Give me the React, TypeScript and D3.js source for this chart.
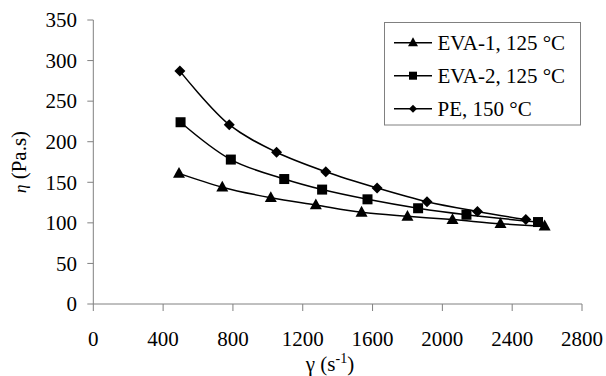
import React from "react";
import * as d3 from "d3";

const xTicks = [0, 400, 800, 1200, 1600, 2000, 2400, 2800];
const yTicks = [0, 50, 100, 150, 200, 250, 300, 350];

const eva1X = [491, 739, 1017, 1275, 1537, 1800, 2058, 2333, 2586];
const eva1Y = [161, 144, 131, 122, 113, 108, 104, 99, 96];
const eva2X = [500, 788, 1094, 1311, 1571, 1861, 2138, 2548];
const eva2Y = [224, 178, 154, 141, 129, 118, 110, 101];
const peX = [496, 779, 1050, 1332, 1626, 1912, 2201, 2478];
const peY = [287, 221, 187, 163, 143, 126, 114, 104];

const seriesNames = ["EVA-1, 125 °C", "EVA-2, 125 °C", "PE, 150 °C"];
const seriesShapes = ["triangle", "square", "diamond"];

const W = 606;
const H = 376;
const left = 93.3;
const right = 582;
const top = 20;
const bottom = 304;
const FONT = '"Liberation Serif", Tinos, "Times New Roman", Times, "DejaVu Serif", serif';

function Marker({ shape, x, y, s }: { shape: string; x: number; y: number; s: number }) {
  if (shape === "triangle") {
    const h = s * 0.9;
    return (
      <path
        d={`M${x},${y - h * 0.6} L${x + s / 2},${y + h * 0.4} L${x - s / 2},${y + h * 0.4} Z`}
        fill="#000"
      />
    );
  }
  if (shape === "square") {
    return <rect x={x - s / 2} y={y - s / 2} width={s} height={s} fill="#000" />;
  }
  const r = s / 2;
  return <path d={`M${x},${y - r} L${x + r},${y} L${x},${y + r} L${x - r},${y} Z`} fill="#000" />;
}

export default function App() {
  const x = d3.scaleLinear().domain([0, 2800]).range([left, right]);
  const y = d3.scaleLinear().domain([0, 350]).range([bottom, top]);
  const line = d3
    .line<[number, number]>()
    .x((d) => x(d[0]))
    .y((d) => y(d[1]))
    .curve(d3.curveCatmullRom.alpha(0.5));

  const series = [
    { xs: eva1X, ys: eva1Y, shape: seriesShapes[0], size: 12 },
    { xs: eva2X, ys: eva2Y, shape: seriesShapes[1], size: 10 },
    { xs: peX, ys: peY, shape: seriesShapes[2], size: 11 },
  ];

  const axisColor = "#808080";
  const ts = { fontFamily: FONT };

  return (
    <svg
      width={W}
      height={H}
      style={{ position: "absolute", left: 0, top: 0, background: "#fff", fontFamily: FONT }}
    >
      <rect x={0} y={0} width={W} height={H} fill="#fff" />
      <line x1={left} x2={left} y1={top} y2={bottom} stroke={axisColor} strokeWidth={1} />
      <line x1={left} x2={right} y1={bottom} y2={bottom} stroke={axisColor} strokeWidth={1} />
      {yTicks.map((t) => (
        <g key={"y" + t}>
          <line x1={left - 6} x2={left} y1={y(t)} y2={y(t)} stroke={axisColor} />
          <text x={77} y={y(t)} dy="0.35em" textAnchor="end" fontSize={21} fill="#000" style={ts}>
            {t}
          </text>
        </g>
      ))}
      {xTicks.map((t) => (
        <g key={"x" + t}>
          <line x1={x(t)} x2={x(t)} y1={bottom} y2={bottom + 7} stroke={axisColor} />
          <text x={x(t)} y={346} textAnchor="middle" fontSize={21} fill="#000" style={ts}>
            {t}
          </text>
        </g>
      ))}
      <text x={330} y={371} textAnchor="middle" fontSize={21} fill="#000" style={ts}>
        γ (s<tspan dy={-8} fontSize={14}>-1</tspan>
        <tspan dy={8}>)</tspan>
      </text>
      <text
        transform={`translate(26,${(top + bottom) / 2}) rotate(-90)`}
        textAnchor="middle"
        fontSize={21}
        fill="#000"
        style={ts}
      >
        <tspan fontSize={17} fontStyle="italic">η</tspan> (Pa.s)
      </text>
      {series.map((s, i) => {
        const pts = s.xs.map((v, j) => [v, s.ys[j]] as [number, number]);
        return (
          <g key={"s" + i}>
            <path d={line(pts) || ""} fill="none" stroke="#000" strokeWidth={1.5} />
            {pts.map((p, j) => (
              <Marker key={j} shape={s.shape} x={x(p[0])} y={y(p[1])} s={s.size} />
            ))}
          </g>
        );
      })}
      <rect x={384.5} y={22.5} width={196} height={102.5} fill="#fff" stroke={axisColor} strokeWidth={1} />
      {seriesNames.map((n, i) => {
        const cy = 42.7 + i * 33;
        return (
          <g key={"l" + i}>
            <line x1={394} x2={432} y1={cy} y2={cy} stroke="#000" strokeWidth={1.5} />
            <Marker shape={seriesShapes[i]} x={413} y={cy} s={i === 0 ? 10 : 8} />
            <text x={437.5} y={cy} dy="0.35em" fontSize={21} fill="#000" style={ts}>
              {n}
            </text>
          </g>
        );
      })}
    </svg>
  );
}
